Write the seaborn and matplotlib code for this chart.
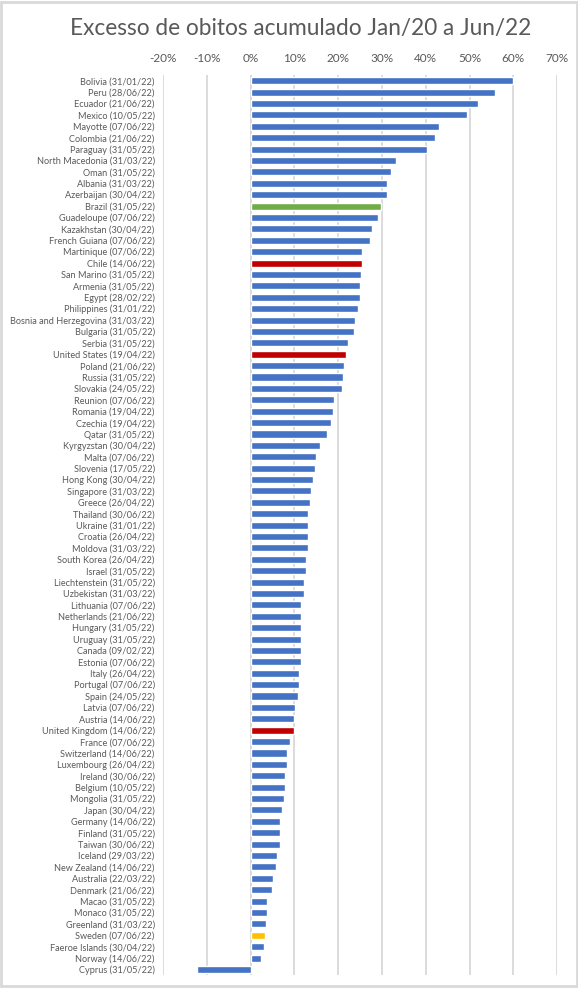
import matplotlib
matplotlib.use("Agg")
import matplotlib.pyplot as plt
import seaborn as sns
import pandas as pd
from matplotlib.ticker import FuncFormatter
from matplotlib.patches import Rectangle

# Data
paises = [
    "Bolivia", "Peru", "Ecuador", "Mexico", "Mayotte", "Colombia", "Paraguay",
    "North Macedonia", "Oman", "Albania", "Azerbaijan", "Brazil", "Guadeloupe",
    "Kazakhstan", "French Guiana", "Martinique", "Chile", "San Marino", "Armenia",
    "Egypt", "Philippines", "Bosnia and Herzegovina", "Bulgaria", "Serbia",
    "United States", "Poland", "Russia", "Slovakia", "Reunion", "Romania",
    "Czechia", "Qatar", "Kyrgyzstan", "Malta", "Slovenia", "Hong Kong",
    "Singapore", "Greece", "Thailand", "Ukraine", "Croatia", "Moldova",
    "South Korea", "Israel", "Liechtenstein", "Uzbekistan", "Lithuania",
    "Netherlands", "Hungary", "Uruguay", "Canada", "Estonia", "Italy",
    "Portugal", "Spain", "Latvia", "Austria", "United Kingdom", "France",
    "Switzerland", "Luxembourg", "Ireland", "Belgium", "Mongolia", "Japan",
    "Germany", "Finland", "Taiwan", "Iceland", "New Zealand", "Australia",
    "Denmark", "Macao", "Monaco", "Greenland", "Sweden", "Faeroe Islands",
    "Norway", "Cyprus",
]
datas = [
    "31/01/22", "28/06/22", "21/06/22", "10/05/22", "07/06/22", "21/06/22", "31/05/22",
    "31/03/22", "31/05/22", "31/03/22", "30/04/22", "31/05/22", "07/06/22",
    "30/04/22", "07/06/22", "07/06/22", "14/06/22", "31/05/22", "31/05/22",
    "28/02/22", "31/01/22", "31/03/22", "31/05/22", "31/05/22",
    "19/04/22", "21/06/22", "31/05/22", "24/05/22", "07/06/22", "19/04/22",
    "19/04/22", "31/05/22", "30/04/22", "07/06/22", "17/05/22", "30/04/22",
    "31/03/22", "26/04/22", "30/06/22", "31/01/22", "26/04/22", "31/03/22",
    "26/04/22", "31/05/22", "31/05/22", "31/03/22", "07/06/22",
    "21/06/22", "31/05/22", "31/05/22", "09/02/22", "07/06/22", "26/04/22",
    "07/06/22", "24/05/22", "07/06/22", "14/06/22", "14/06/22", "07/06/22",
    "14/06/22", "26/04/22", "30/06/22", "10/05/22", "31/05/22", "30/04/22",
    "14/06/22", "31/05/22", "30/06/22", "29/03/22", "14/06/22", "22/03/22",
    "21/06/22", "31/05/22", "31/05/22", "31/03/22", "07/06/22", "30/04/22",
    "14/06/22", "31/05/22",
]
excesso = [
    60.0, 55.7, 52.0, 49.3, 43.1, 42.0, 40.3,
    33.2, 32.0, 31.2, 31.2, 29.8, 29.1,
    27.8, 27.3, 25.5, 25.5, 25.3, 25.0,
    24.9, 24.6, 23.9, 23.7, 22.3,
    21.8, 21.4, 21.1, 20.9, 19.1, 18.9,
    18.4, 17.5, 15.9, 15.0, 14.7, 14.3,
    13.8, 13.6, 13.1, 13.1, 13.1, 13.1,
    12.7, 12.7, 12.2, 12.2, 11.5,
    11.5, 11.4, 11.4, 11.4, 11.4, 11.1,
    11.1, 10.9, 10.2, 9.9, 9.9, 9.0,
    8.3, 8.2, 7.9, 7.9, 7.7, 7.2,
    6.7, 6.6, 6.6, 6.1, 5.8, 5.1,
    5.0, 3.8, 3.8, 3.5, 3.4, 3.1,
    2.4, -12.2,
]
destaques = {
    "Brazil": "#70AD47",
    "Chile": "#C00000",
    "United States": "#C00000",
    "United Kingdom": "#C00000",
    "Sweden": "#FFC000",
}
azul = "#4472C4"

rotulos = [f"{p} ({d})" for p, d in zip(paises, datas)]
df = pd.DataFrame({"rotulo": rotulos, "valor": excesso})
paleta = {r: destaques.get(p, azul) for r, p in zip(rotulos, paises)}

sns.set_theme(style="white")
plt.rcParams["font.family"] = ["Lato", "DejaVu Sans"]
cinza = "#595959"

fig = plt.figure(figsize=(5.78, 9.88), dpi=100)
ax = fig.add_axes([0.282, 0.013, 0.682, 0.911])

sns.barplot(data=df, x="valor", y="rotulo", hue="rotulo", palette=paleta,
            legend=False, width=0.62, saturation=1, ax=ax)

ax.set_xlim(-20, 70)
ax.set_xticks(range(-20, 71, 10))
ax.xaxis.set_major_formatter(FuncFormatter(lambda v, p: f"{v:.0f}%"))
ax.xaxis.tick_top()
ax.tick_params(axis="x", length=0, pad=8, labelsize=8.5, labelcolor=cinza)
ax.tick_params(axis="y", length=0, pad=6, labelsize=6.6, labelcolor=cinza)
ax.set_xlabel("")
ax.set_ylabel("")
ax.grid(axis="x", color="#D9D9D9", linewidth=1.3)
ax.set_axisbelow(True)
for s in ax.spines.values():
    s.set_visible(False)
ax.axvline(0, color="#D9D9D9", linewidth=1.3, zorder=0)

fig.suptitle("Excesso de obitos acumulado Jan/20 a Jun/22", x=0.52, y=0.982,
             fontsize=16.3, color=cinza)

fig.patches.append(Rectangle((0.002, 0.002), 0.996, 0.996, transform=fig.transFigure,
                             fill=False, edgecolor="#D9D9D9", linewidth=2))

fig.savefig("out.png", dpi=100)
